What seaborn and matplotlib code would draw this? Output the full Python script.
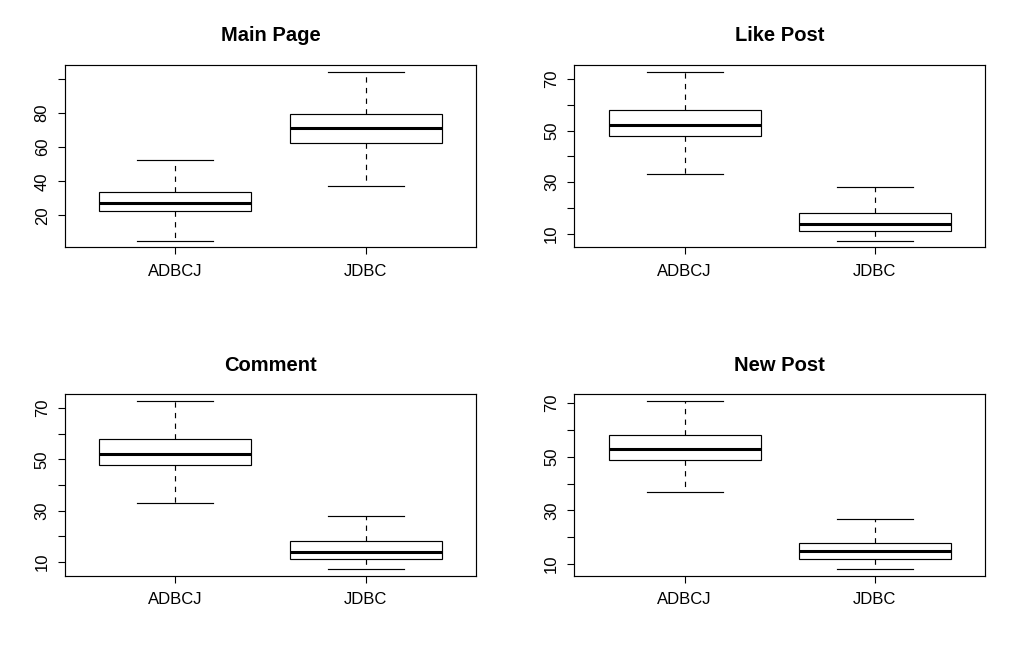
import numpy as np
import pandas as pd
import matplotlib
matplotlib.use("Agg")
import matplotlib.pyplot as plt
import seaborn as sns

# ---- data (five-number summaries) ----
groups = ["ADBCJ", "JDBC"]
titles = ["Main Page", "Like Post", "Comment", "New Post"]
# lower whisker, Q1, median, Q3, upper whisker
main_adbcj = [5.3, 22.4, 27.0, 33.9, 52.5]
main_jdbc = [37.0, 62.5, 71.2, 79.4, 104.1]
like_adbcj = [33.0, 47.9, 52.2, 58.0, 72.9]
like_jdbc = [7.3, 11.2, 13.9, 18.2, 28.0]
comment_adbcj = [33.0, 47.8, 52.1, 57.9, 72.7]
comment_jdbc = [7.3, 11.2, 13.9, 18.2, 27.9]
newpost_adbcj = [36.8, 48.8, 52.9, 58.1, 70.8]
newpost_jdbc = [8.1, 11.9, 14.8, 17.8, 26.8]

main_ticks = [20, 40, 60, 80, 100]
main_labels = ["20", "40", "60", "80", ""]
other_ticks = [10, 20, 30, 40, 50, 60, 70]
other_labels = ["10", "", "30", "", "50", "", "70"]

panels = [
    (titles[0], main_adbcj, main_jdbc, main_ticks, main_labels),
    (titles[1], like_adbcj, like_jdbc, other_ticks, other_labels),
    (titles[2], comment_adbcj, comment_jdbc, other_ticks, other_labels),
    (titles[3], newpost_adbcj, newpost_jdbc, other_ticks, other_labels),
]

plt.rcParams['font.family'] = ['Liberation Sans', 'DejaVu Sans']

W, H = 1018, 658
fig = plt.figure(figsize=(W / 100, H / 100), dpi=100)

# axes rectangles in pixels: left, top, right, bottom
rects = [
    (65, 65, 476, 247.3),
    (574.3, 65, 985.3, 247.3),
    (65, 394.3, 476, 575.7),
    (574.3, 394.3, 985.3, 575.7),
]

for (title, a, b, ticks, labels), (l, t, r, bt) in zip(panels, rects):
    ax = fig.add_axes([l / W, (H - bt) / H, (r - l) / W, (bt - t) / H])
    df = pd.DataFrame({
        "group": [groups[0]] * len(a) + [groups[1]] * len(b),
        "value": list(a) + list(b),
    })
    sns.boxplot(
        data=df, x="group", y="value", order=groups, ax=ax,
        whis=(0, 100), width=0.8, color="white", linecolor="black",
        linewidth=0.85, fill=True, saturation=1,
        medianprops=dict(linewidth=2.2, color="black", solid_capstyle="butt"),
        whiskerprops=dict(linestyle=(0, (4.5, 4.5)), linewidth=0.85, color="black"),
        capprops=dict(linewidth=0.85, color="black"),
        boxprops=dict(linewidth=0.85, edgecolor="black", facecolor="white"),
        showfliers=False,
    )
    vals = np.array(list(a) + list(b))
    mn, mx = vals.min(), vals.max()
    pad = 0.04 * (mx - mn)
    ax.set_ylim(mn - pad, mx + pad)
    ax.set_xlim(-0.58, 1.58)
    ax.set_yticks(ticks)
    ax.set_yticklabels(labels)
    ax.set_xlabel("")
    ax.set_ylabel("")
    ax.set_title(title, fontsize=14.5, fontweight="bold", pad=17)
    for s in ax.spines.values():
        s.set_color("black")
        s.set_linewidth(0.85)
    ax.tick_params(axis="both", direction="out", length=5, width=0.8,
                   colors="black", labelsize=12)
    ax.tick_params(axis="x", pad=7)
    ax.tick_params(axis="y", pad=6, labelrotation=90)
    for lbl in ax.get_yticklabels():
        lbl.set_va("center")

fig.savefig("out.png", dpi=100, facecolor="white")
